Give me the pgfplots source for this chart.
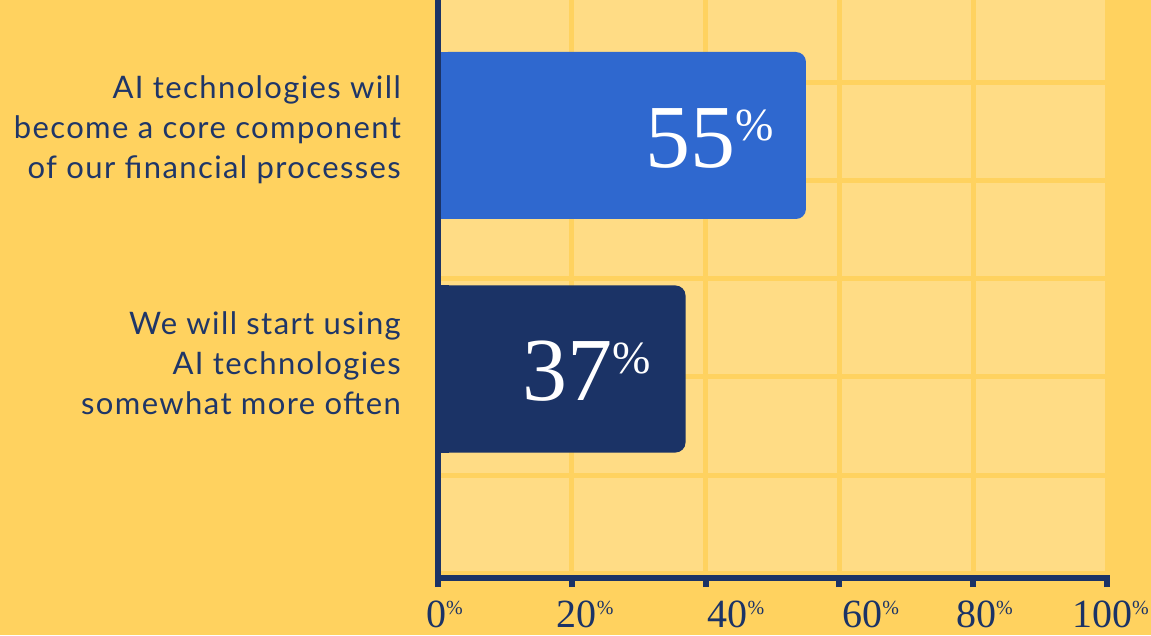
\documentclass[border=0pt]{standalone}
\usepackage{pgfplots}
\pgfplotsset{compat=1.18}
\usepackage{fontspec}
\setmainfont{Liberation Serif}
\newfontfamily\labelfont[LetterSpace=4.5]{Lato}
\definecolor{bg}{HTML}{FFD25F}
\definecolor{cell}{HTML}{FFDC85}
\definecolor{blueb}{HTML}{2F68CF}
\definecolor{navy}{HTML}{1B3366}
\definecolor{txt}{HTML}{1F3668}
\newcommand\bignum[1]{{\fontsize{90}{90}\selectfont #1}\raisebox{27pt}{\fontsize{46}{46}\selectfont\%}}
\newcommand\ticklab[2]{\hspace*{#2pt}{\fontsize{40}{40}\selectfont #1}\rlap{\raisebox{13pt}{\fontsize{20}{20}\selectfont\%}}}
\pgfplotsset{layers/mylayers/.define layer set={axis background,axis grid,pre main,main,axis ticks,axis lines,axis tick labels,axis descriptions,axis foreground}{}}
\begin{document}
\begin{tikzpicture}
\fill[bg] (-438pt,-57pt) rectangle (713pt,578pt);
\begin{axis}[
  set layers=mylayers,
  at={(0pt,0pt)}, anchor=south west,
  scale only axis, width=669pt, height=578pt,
  xmin=0, xmax=100, ymin=0, ymax=578,
  axis lines=left,
  axis line style={-, line width=6pt, navy},
  axis background/.style={fill=cell},
  xtick={0,20,40,60,80,100},
  xmajorgrids,
  grid style={line width=5pt, bg},
  tick align=outside,
  every tick/.style={line width=6pt, navy},
  major tick length=9pt,
  xticklabels={\ticklab{0}{-4},\ticklab{20}{10},\ticklab{40}{44},\ticklab{60}{46},\ticklab{80}{6},\ticklab{100}{-10}},
  xticklabel style={anchor=north, inner sep=0pt, text=navy, yshift=-14pt},
  ytick={209,442.5},
  yticklabels={{We will start using\\AI technologies\\somewhat more often},{AI technologies will\\become a core component\\of our financial processes}},
  y tick style={draw=none},
  yticklabel style={align=right, text=txt, inner sep=0pt, font=\labelfont\fontsize{31}{40}\selectfont, xshift=-28pt, yshift=6pt},
  extra y ticks={5,103,201,299,397,495},
  extra y tick labels={},
  extra y tick style={ymajorgrids=true, y tick style={draw=none}},
  xbar, bar width=167pt,
  nodes near coords align=horizontal,
]
\addplot[xbar, fill=blueb, draw=none, bar shift=0pt, forget plot] coordinates {(1.6,442.5)};
\addplot[xbar, fill=navy, draw=none, bar shift=0pt, forget plot] coordinates {(1.6,209)};
\addplot[xbar, fill=blueb, draw=none, bar shift=0pt, rounded corners=10pt,
  point meta=x,
  nodes near coords={\bignum{\pgfmathprintnumber[assume math mode=true]{\pgfplotspointmeta}}},
  every node near coord/.append style={white, inner sep=0pt, text width=200pt, align=right, xshift=-232pt, yshift=-2.5pt}]
  coordinates {(55,442.5)};
\addplot[xbar, fill=navy, draw=none, bar shift=0pt, rounded corners=10pt,
  point meta=x,
  nodes near coords={\bignum{\pgfmathprintnumber[assume math mode=true]{\pgfplotspointmeta}}},
  every node near coord/.append style={white, inner sep=0pt, text width=200pt, align=right, xshift=-235pt, yshift=-2.5pt}]
  coordinates {(37,209)};
\begin{pgfonlayer}{axis foreground}
\draw[navy, line width=6pt] (rel axis cs:0,1.01) -- (rel axis cs:0,0) -- (rel axis cs:1.004,0);
\end{pgfonlayer}
\end{axis}
\pgfresetboundingbox
\useasboundingbox (-438pt,-57pt) rectangle (713pt,578pt);
\end{tikzpicture}
\end{document}
